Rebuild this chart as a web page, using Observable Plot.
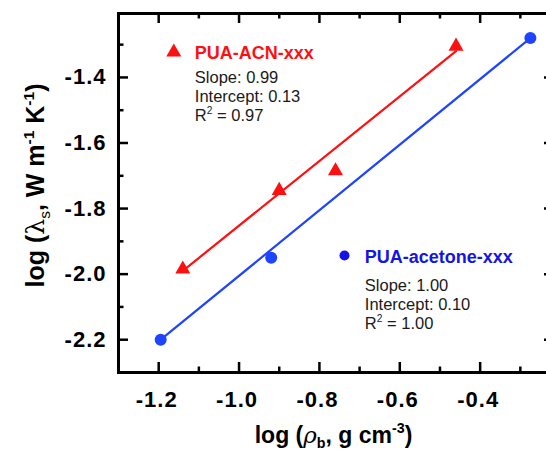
<!DOCTYPE html>
<html><head><meta charset="utf-8">
<script src="https://cdn.jsdelivr.net/npm/d3@7"></script>
<script src="https://cdn.jsdelivr.net/npm/@observablehq/plot@0.6"></script>
<style>
html,body{margin:0;padding:0;background:#fff;overflow:hidden;}
</style></head><body><div id="chart"></div>
<script>
// ---- data ----
const acnX = [-1.14, -0.90, -0.76, -0.46];
const acnY = [-1.985, -1.745, -1.685, -1.305];
const acetoneX = [-1.195, -0.92, -0.275];
const acetoneY = [-2.20, -1.95, -1.28];
const acnFitX = [-1.14, -0.46];
const acnFitY = [-1.99, -1.32];
const acetoneFitX = [-1.195, -0.275];
const acetoneFitY = [-2.20, -1.28];
const seriesNames = ["PUA-ACN-xxx", "PUA-acetone-xxx"];
const acnNotes = ["Slope: 0.99", "Intercept: 0.13", "R2 = 0.97"];
const acetoneNotes = ["Slope: 1.00", "Intercept: 0.10", "R2 = 1.00"];
const xMajor = [-1.2, -1.0, -0.8, -0.6, -0.4];
const xMinor = [-1.1, -0.9, -0.7, -0.5, -0.3];
const xTickLabels = ["-1.2", "-1.0", "-0.8", "-0.6", "-0.4"];
const yMajor = [-2.2, -2.0, -1.8, -1.6, -1.4];
const yMinor = [-2.1, -1.9, -1.7, -1.5, -1.3];
const yTickLabels = ["-2.2", "-2.0", "-1.8", "-1.6", "-1.4"];
const xTitle = "log (\u03C1b, g cm-3)";
const yTitle = "log (\u03BBs, W m-1 K-1)";

const acn = acnX.map((x, i) => ({x, y: acnY[i]}));
const acetone = acetoneX.map((x, i) => ({x, y: acetoneY[i]}));
const acnFit = acnFitX.map((x, i) => ({x, y: acnFitY[i]}));
const acetoneFit = acetoneFitX.map((x, i) => ({x, y: acetoneFitY[i]}));

const W = 560, H = 451;
const mL = 118, mT = 13, mR = W - 554, mB = H - 372;
const FW = W - mL - mR, FH = H - mT - mB;
const font = "'Liberation Sans', Arial, Helvetica, sans-serif";
const RED = "#ff1010", BLUE = "#1f44ff", BLUET = "#1414e6";
const MAJ = 10, MIN = 5.5;

const plot = Plot.plot({
  width: W, height: H,
  marginLeft: mL, marginRight: mR, marginTop: mT, marginBottom: mB,
  style: {fontFamily: font, maxWidth: "none", background: "white", overflow: "hidden"},
  x: {domain: [-1.3, -0.215], axis: null},
  y: {domain: [-2.3, -1.205], axis: null},
  marks: [
    Plot.line(acnFit, {x: "x", y: "y", stroke: RED, strokeWidth: 2.2}),
    Plot.line(acetoneFit, {x: "x", y: "y", stroke: BLUE, strokeWidth: 2.2}),
    Plot.dot(acn, {x: "x", y: "y", symbol: "triangle", r: 5.6, fill: RED, stroke: "none"}),
    Plot.dot(acetone, {x: "x", y: "y", r: 6, fill: BLUE, stroke: "none"}),
    // ticks (inward on all four sides)
    Plot.ruleX(xMajor, {x: d => d, insetTop: FH - MAJ, stroke: "black", strokeWidth: 2.5}),
    Plot.ruleX(xMinor, {x: d => d, insetTop: FH - MIN, stroke: "black", strokeWidth: 2.5}),
    Plot.ruleX(xMajor, {x: d => d, insetBottom: FH - MAJ, stroke: "black", strokeWidth: 2.5}),
    Plot.ruleX(xMinor, {x: d => d, insetBottom: FH - MIN, stroke: "black", strokeWidth: 2.5}),
    Plot.ruleY(yMajor, {y: d => d, insetRight: FW - MAJ, stroke: "black", strokeWidth: 2.5}),
    Plot.ruleY(yMinor, {y: d => d, insetRight: FW - MIN, stroke: "black", strokeWidth: 2.5}),
    Plot.ruleY(yMajor, {y: d => d, insetLeft: FW - MAJ, stroke: "black", strokeWidth: 2.5}),
    Plot.ruleY(yMinor, {y: d => d, insetLeft: FW - MIN, stroke: "black", strokeWidth: 2.5}),
    Plot.frame({stroke: "black", strokeWidth: 3}),
    // tick labels
    Plot.text(xMajor, {x: d => d, text: (d, i) => xTickLabels[i], frameAnchor: "bottom", lineAnchor: "bottom", textAnchor: "middle", dy: 34, dx: -2, fontSize: 22, fontWeight: "bold", fill: "black"}),
    Plot.text(yMajor, {y: d => d, text: (d, i) => yTickLabels[i], frameAnchor: "left", textAnchor: "end", dx: -12, fontSize: 22, fontWeight: "bold", fill: "black"}),
    // axis titles
    Plot.text([xTitle], {text: d => d, frameAnchor: "bottom", lineAnchor: "bottom", textAnchor: "middle", dy: 70, dx: -3, fontSize: 23, fontWeight: "bold", fill: "black"}),
    Plot.text([yTitle], {text: d => d, frameAnchor: "left", textAnchor: "middle", rotate: -90, lineAnchor: "bottom", dx: -74.5, dy: -7.5, fontSize: 25, fontWeight: "bold", fill: "black"}),
    // legend / annotations
    Plot.dot([0], {frameAnchor: "top-left", dx: 55.3, dy: 38.7, symbol: "triangle", r: 5.6, fill: RED, stroke: "none"}),
    Plot.text([seriesNames[0]], {text: d => d, frameAnchor: "top-left", textAnchor: "start", lineAnchor: "bottom", dx: 76.3, dy: 45.3, fontSize: 18, fontWeight: "bold", fill: RED}),
    Plot.text(acnNotes, {text: d => d, frameAnchor: "top-left", textAnchor: "start", lineAnchor: "bottom", dx: 76.3, dy: 69.5, fontSize: 16.5, fill: "#1a1a1a"}),
    Plot.dot([0], {frameAnchor: "top-left", dx: 226, dy: 242, r: 5, fill: BLUET, stroke: "none"}),
    Plot.text([seriesNames[1]], {text: d => d, frameAnchor: "top-left", textAnchor: "start", lineAnchor: "bottom", dx: 246.3, dy: 249.7, fontSize: 18, fontWeight: "bold", fill: BLUET}),
    Plot.text(acetoneNotes, {text: d => d, frameAnchor: "top-left", textAnchor: "start", lineAnchor: "bottom", dx: 246.3, dy: 277, fontSize: 16.5, fill: "#1a1a1a"})
  ]
});

// tick labels: slightly wider spacing as in the reference
plot.querySelectorAll("text").forEach(t => {
  if (xTickLabels.includes(t.textContent) || yTickLabels.includes(t.textContent)) t.setAttribute("letter-spacing", "1");
});

// notes are stacked: offset each successive line by 19px
function stackNotes(svg, notes) {
  const texts = Array.from(svg.querySelectorAll("text")).filter(t => notes.includes(t.textContent));
  texts.forEach(t => {
    const k = notes.indexOf(t.textContent);
    const y0 = parseFloat(t.getAttribute("y") || 0);
    t.setAttribute("y", y0 + k * 19);
  });
}

// rich text (sub/superscripts)
function rich(svg, plain, parts, base) {
  const el = Array.from(svg.querySelectorAll("text")).find(t => t.textContent === plain);
  if (!el) return;
  el.textContent = "";
  const NS = "http://www.w3.org/2000/svg";
  let cur = 0;
  parts.forEach(p => {
    const ts = document.createElementNS(NS, "tspan");
    ts.textContent = p.t;
    const target = p.sub ? 0.25 * base : p.sup ? -0.42 * base : 0;
    if (target !== cur) { ts.setAttribute("dy", target - cur); cur = target; }
    if (p.sub || p.sup) ts.setAttribute("font-size", (0.62 * base) + "px");
    if (p.italic) ts.setAttribute("font-style", "italic");
    if (p.normal) ts.setAttribute("font-weight", "normal");
    if (p.font) ts.setAttribute("font-family", p.font);
    el.appendChild(ts);
  });
}

stackNotes(plot, acnNotes);
stackNotes(plot, acetoneNotes);
rich(plot, acnNotes[2], [{t: "R"}, {t: "2", sup: true}, {t: " = 0.97"}], 16.5);
rich(plot, acetoneNotes[2], [{t: "R"}, {t: "2", sup: true}, {t: " = 1.00"}], 16.5);
rich(plot, xTitle, [
  {t: "log ("}, {t: "\u03C1", italic: true, normal: true, font: "'DejaVu Serif', serif"}, {t: "b", sub: true},
  {t: ", g cm"}, {t: "-3", sup: true}, {t: ")"}
], 23);
rich(plot, yTitle, [
  {t: "log ("}, {t: "\u03BB", normal: true, font: "'DejaVu Serif', serif"}, {t: "s", sub: true, normal: true},
  {t: ", W m"}, {t: "-1", sup: true}, {t: " K"}, {t: "-1", sup: true}, {t: ")"}
], 25);

document.getElementById("chart").appendChild(plot);
</script>
</body></html>
